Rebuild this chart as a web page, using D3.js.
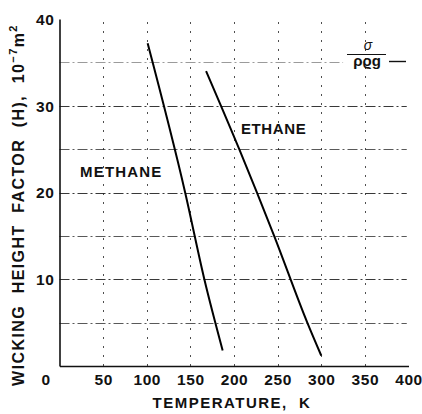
<!DOCTYPE html>
<html>
<head>
<meta charset="utf-8">
<script src="https://cdn.jsdelivr.net/npm/d3@7"></script>
<style>
  html, body { margin: 0; padding: 0; background: #fff; }
  svg { display: block; }
  text { font-family: "Liberation Sans", Arial, Helvetica, sans-serif; font-weight: bold; fill: #111; }
</style>
</head>
<body>
<svg id="chart" width="422" height="414"></svg>
<script>
// Wicking height factor vs temperature
const xTicks = [0, 50, 100, 150, 200, 250, 300, 350, 400];
const xTickLabels = ["0", "50", "100", "150", "200", "250", "300", "350", "400"];
const yTicks = [10, 20, 30, 40];
const yTickLabels = ["10", "20", "30", "40"];
const gridY = [5, 10, 15, 20, 25, 30, 35];
const gridX = [50, 100, 150, 200, 250, 300, 350];

const methaneT = [101, 144, 166, 187];
const methaneH = [37.2, 20, 10, 1.8];
const ethaneT = [168, 206, 246, 284, 300];
const ethaneH = [34, 25, 15, 5, 1.2];

const FONT = "'Liberation Sans', Arial, Helvetica, sans-serif";
const svg = d3.select("#chart");
const x = d3.scaleLinear().domain([0, 400]).range([59.5, 408.5]);
const y = d3.scaleLinear().domain([0, 40]).range([366, 19]);

// grid: dash-dot rules
const grid = svg.append("g").attr("stroke", "#222").attr("stroke-width", 1).attr("fill", "none");
grid.selectAll("line.h").data(gridY).join("line")
  .attr("stroke-dasharray", "10,3,2,3")
  .attr("x1", x(0)).attr("x2", d => d === 35 ? x(325) : x(398))
  .attr("y1", d => Math.round(y(d)) + 0.5).attr("y2", d => Math.round(y(d)) + 0.5)
  .attr("opacity", d => d === 35 ? 0.45 : (d % 10 === 0 ? 0.9 : 0.75));
grid.selectAll("line.v").data(gridX).join("line")
  .attr("stroke-dasharray", "2,7")
  .attr("y1", y(0)).attr("y2", y(40))
  .attr("x1", d => Math.round(x(d)) + 0.5).attr("x2", d => Math.round(x(d)) + 0.5)
  .attr("opacity", 0.8);

// axes
const xAxis = d3.axisBottom(x).tickValues(xTicks).tickFormat((d, i) => xTickLabels[i]).tickSize(0).tickPadding(8);
const yAxis = d3.axisLeft(y).tickValues(yTicks).tickFormat((d, i) => yTickLabels[i]).tickSize(0).tickPadding(5);

function styleTicks(g) {
  g.selectAll("text").style("font-size", "15.5px").style("font-family", FONT)
    .style("font-weight", "bold").style("letter-spacing", "0.6px").attr("fill", "#111");
}
const gx = svg.append("g").attr("transform", `translate(0,${y(0)})`).call(xAxis);
gx.select(".domain").attr("stroke", "#111").attr("stroke-width", 1.6);
styleTicks(gx);
gx.selectAll(".tick").filter(d => d === 0).select("text").attr("dx", "-14px");

const gy = svg.append("g").attr("transform", `translate(${x(0)},0)`).call(yAxis);
gy.select(".domain").attr("stroke", "#111").attr("stroke-width", 1.6);
styleTicks(gy);
gy.selectAll("text").attr("dy", "0.35em");

// curves
const line = d3.line().x(d => x(d[0])).y(d => y(d[1])).curve(d3.curveMonotoneX);
svg.append("path").datum(d3.zip(methaneT, methaneH)).attr("d", line)
  .attr("fill", "none").attr("stroke", "#000").attr("stroke-width", 2);
svg.append("path").datum(d3.zip(ethaneT, ethaneH)).attr("d", line)
  .attr("fill", "none").attr("stroke", "#000").attr("stroke-width", 2);

// curve labels
svg.append("text").attr("x", 80).attr("y", 177).style("font-size", "15px").style("letter-spacing", "1.2px").text("METHANE");
svg.append("text").attr("x", 241).attr("y", 134).style("font-size", "15px").style("letter-spacing", "0.6px").text("ETHANE");

// key: sigma over rho rho g
svg.append("text").attr("x", 368).attr("y", 50).attr("text-anchor", "middle")
  .style("font-size", "14px").style("font-weight", "normal").style("font-style", "italic").text("σ");
svg.append("line").attr("x1", 347).attr("x2", 386).attr("y1", 54.5).attr("y2", 54.5).attr("stroke", "#111").attr("stroke-width", 1.2);
svg.append("text").attr("x", 367).attr("y", 66).attr("text-anchor", "middle")
  .style("font-size", "15px").text("ρϱg");
svg.append("line").attr("x1", 389).attr("x2", 406).attr("y1", 61.5).attr("y2", 61.5).attr("stroke", "#111").attr("stroke-width", 1.4);

// axis titles
svg.append("text").attr("x", 232).attr("y", 408).attr("text-anchor", "middle")
  .style("font-size", "15px").style("letter-spacing", "1.5px").attr("xml:space", "preserve").text("TEMPERATURE,  K");

const yt = svg.append("text").attr("transform", "translate(24,205) rotate(-90)").attr("text-anchor", "middle")
  .style("font-size", "16px").style("letter-spacing", "1.4px").attr("xml:space", "preserve");
yt.append("tspan").text("WICKING  HEIGHT  FACTOR  (H),  10");
yt.append("tspan").attr("dy", "-7").style("font-size", "11px").text("−7");
yt.append("tspan").attr("dy", "7").text("m");
yt.append("tspan").attr("dy", "-7").style("font-size", "11px").text("2");
</script>
</body>
</html>
